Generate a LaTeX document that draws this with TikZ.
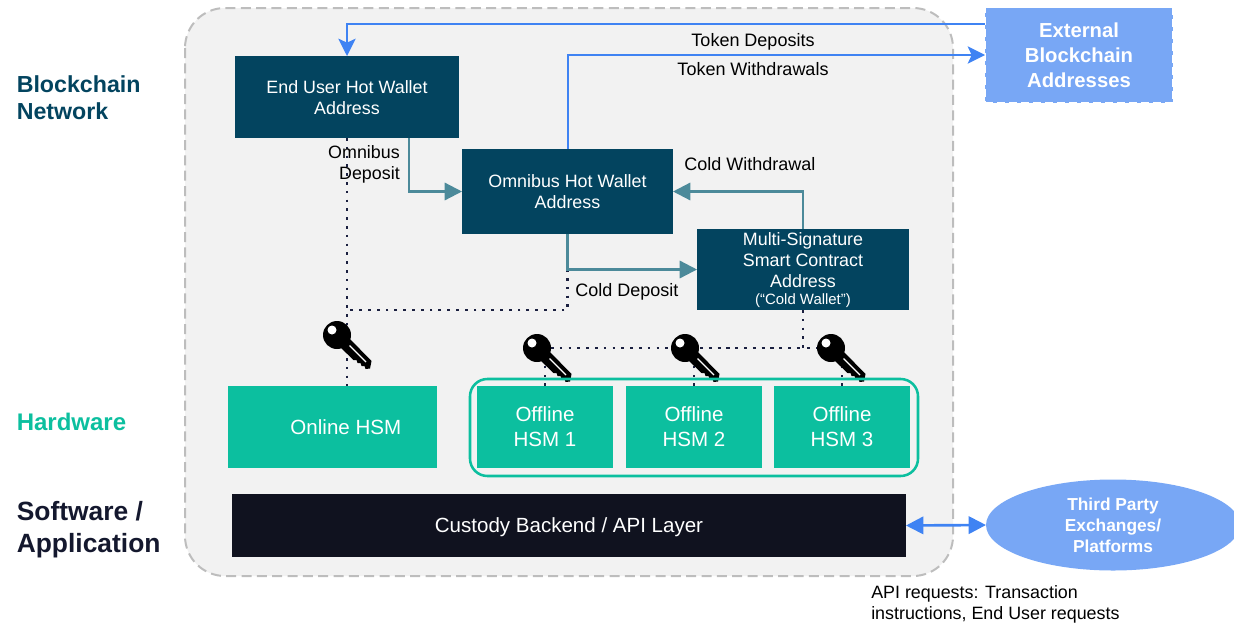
\documentclass[tikz,border=0pt]{standalone}
\usepackage{fontspec}
\setmainfont{Liberation Sans}
\usetikzlibrary{arrows.meta,shapes.geometric}
\definecolor{navy}{HTML}{03445F}
\definecolor{hsm}{HTML}{0CBF9F}
\definecolor{flowteal}{HTML}{4C8A9A}
\definecolor{flowblue}{HTML}{3F83F3}
\definecolor{lightblue}{HTML}{78A7F5}
\definecolor{ink}{HTML}{10121F}
\definecolor{dotink}{HTML}{1B2040}
\definecolor{panel}{HTML}{F2F2F2}
\definecolor{panelline}{HTML}{BDBDBD}
\definecolor{softink}{HTML}{14182E}
\tikzset{
  sz/.style 2 args={minimum width=#1*0.75pt,minimum height=#2*0.75pt,inner sep=0pt,outer sep=0pt},
  smalltxt/.style={font=\fontsize{13.4}{15.8}\selectfont,align=center,text=white},
  bigtxt/.style={font=\fontsize{15.4}{18.8}\selectfont,align=center,text=white},
  navybox/.style={fill=navy,smalltxt},
  hsmbox/.style={fill=hsm,bigtxt},
  lbl/.style={font=\fontsize{13.5}{15.8}\selectfont,text=black,inner sep=0pt},
  side/.style={font=\fontsize{17.4}{20.4}\selectfont\bfseries,align=left,anchor=west,inner sep=0pt},
  tealflow/.style={draw=flowteal,line width=1.7pt,-{Triangle[length=13pt,width=13pt]}},
  blueflow/.style={draw=flowblue,line width=1.5pt,-{Stealth[length=13pt,width=13pt,inset=3pt]}},
  dotflow/.style={draw=dotink,line width=1.9pt,dash pattern=on 2pt off 4.6pt},
  keyicon/.pic={
    \fill[black] (0,0) circle (14);
    \fill[black] (3,12) -- (12,3) -- (34.5,26) -- (33,33.5) -- (28.5,34) -- (27.5,31) -- (24.5,31) -- (23.5,28) -- (20.5,28) -- (19.5,25) -- (16.5,25) -- cycle;
    \draw[white,line width=1pt] (12.5,10.5) -- (29,27);
    \fill[white] (-5,-5) circle (4.5);
  }
}
\begin{document}
\begin{tikzpicture}[x=0.75pt,y=-0.75pt]
\useasboundingbox (0,0) rectangle (1234,625);
% panel
\draw[fill=panel,draw=panelline,line width=1.5pt,dash pattern=on 7.5pt off 4pt,rounded corners=30pt] (185,8) rectangle (953,576);
% boxes
\node[navybox,sz={224}{82}] (eu) at (347,97) {\rule{0pt}{11.3pt}End User Hot Wallet\\Address};
\node[navybox,sz={211}{85}] (omni) at (567.5,191.5) {Omnibus Hot Wallet\\Address};
\node[navybox,sz={212}{81}] (multi) at (803,269.5) {};
\node[smalltxt,inner sep=0pt,anchor=center] (multitxt) at (803,260) {Multi-Signature\\Smart Contract\\Address};
\node[text=white,font=\fontsize{11.2}{13}\selectfont,inner sep=0pt] (coldw) at (803,301) {(“Cold Wallet”)};
\node[hsmbox,sz={209}{82}] (online) at (332.5,427) {\hspace{20pt}Online HSM};
\node[hsmbox,sz={136}{82}] (off1) at (545,427) {Offline\\HSM 1};
\node[hsmbox,sz={136}{82}] (off2) at (694,427) {Offline\\HSM 2};
\node[hsmbox,sz={136}{82}] (off3) at (842,427) {Offline\\HSM 3};
\node[fill=ink,sz={674}{63},bigtxt,text height=14pt,text depth=3pt] (api) at (569,525.5) {Custody Backend / API Layer};
\node[fill=lightblue,draw=white,line width=1.2pt,dash pattern=on 6pt off 3pt,sz={188}{95},text=white,align=center,font=\fontsize{15.2}{18.8}\selectfont\bfseries] (ext) at (1079,55) {External\\Blockchain\\Addresses};
\node[ellipse,fill=lightblue,sz={254}{91},text=white,align=center,font=\fontsize{13}{15.8}\selectfont\bfseries] (third) at (1113,525) {Third Party\\Exchanges/\\Platforms};
% dotted key links
\coordinate (bus) at (803,348);
\draw[dotflow] (eu.south) -- (eu.south |- online.north);
\draw[dotflow] (omni.south) -- (omni.south |- multi.south) -- (eu.south |- multi.south);
\draw[dotflow] (multi.south) -- (bus);
\draw[dotflow] (off1.north) |- (bus);
\draw[dotflow] (off2.north) |- (bus);
\draw[dotflow] (off3.north) |- (bus);
% flows
\draw[blueflow] ([yshift=23.25pt]ext.west) -| (eu.north);
\draw[blueflow] (omni.north) |- (ext.west);
\draw[tealflow] ([xshift=46.5pt]eu.south) |- (omni.west);
\draw[tealflow] (multi.north) |- (omni.east);
\draw[tealflow] (omni.south) |- (multi.west);
\draw[draw=flowblue,line width=2pt,{Triangle[length=13pt,width=13pt]}-{Triangle[length=13pt,width=13pt]}] (api.east) -- (third.west);
% keys
\pic at (337,335) {keyicon};
\pic at (537,348) {keyicon};
\pic at (685,348) {keyicon};
\pic at (831,348) {keyicon};
% offline group
\draw[draw=hsm,line width=1.9pt,rounded corners=13pt] (470,379) rectangle (918,476);
% labels
\node[lbl] (tdep) at (753,42) {Token Deposits};
\node[lbl] (twd) at (753,69) {Token Withdrawals};
\node[lbl,align=right,anchor=east,font=\fontsize{13.4}{15.8}\selectfont] (odep) at (400,164.5) {Omnibus\\Deposit};
\node[lbl] (cwd) at (750,164) {Cold Withdrawal};
\node[lbl] (cdep) at (627,292) {Cold Deposit};
\node[lbl,align=left,anchor=west,font=\fontsize{13.4}{15.8}\selectfont] (apireq) at (871,604.5) {API requests: Transaction\\instructions, End User requests};
\node[side,text=navy] (sbn) at (16.5,97.5) {Blockchain\\Network};
\node[side,text=hsm,font=\fontsize{18}{20.4}\selectfont\bfseries] (shw) at (16.5,422) {Hardware};
\node[side,text=softink,font=\fontsize{19.8}{24}\selectfont\bfseries] (ssw) at (16.5,530) {Software /\\Application};
\end{tikzpicture}
\end{document}
